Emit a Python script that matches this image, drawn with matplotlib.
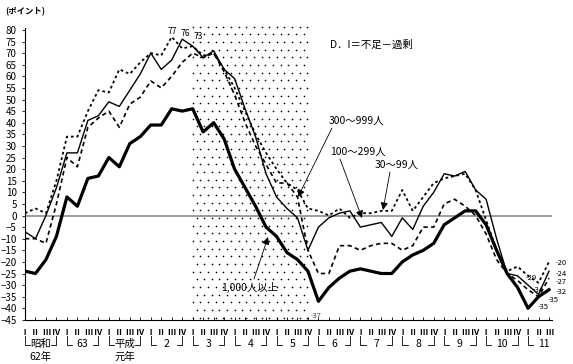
import matplotlib
matplotlib.use('Agg')
import matplotlib.pyplot as plt
import matplotlib.transforms as mtransforms
import numpy as np

plt.rcParams['font.family'] = ['Noto Sans CJK JP', 'DejaVu Sans']

# ---- data -------------------------------------------------------------
quarters = list(range(51))  # 昭和62年Ⅰ期 .. 平成11年Ⅲ期
q_labels = ['Ⅰ', 'Ⅱ', 'Ⅲ', 'Ⅳ']
year_top = ['昭和', '63', '平成', '2', '3', '4', '5', '6', '7', '8', '9', '10', '11']
year_bottom = ['62年', '', '元年', '', '', '', '', '', '', '', '', '', '']

s1000 = [-24, -25, -19, -9, 8, 4, 16, 17, 25, 21, 31, 34, 39, 39, 46, 45, 46, 36, 40, 33,
         20, 12, 4, -5, -9, -16, -19, -24, -37, -31, -27, -24, -23, -24, -25, -25, -20, -17,
         -15, -12, -4, -1, 2, 2, -4, -15, -25, -31, -40, -35, -32]
s300 = [-10, -10, -12, 5, 25, 21, 38, 42, 45, 38, 48, 51, 58, 55, 60, 66, 70, 68, 70, 62,
        52, 40, 30, 22, 14, 14, 8, -15, -25, -25, -13, -13, -15, -13, -12, -12, -15, -13,
        -5, -5, 5, 7, 4, 0, -8, -19, -25, -28, -32, -35, -27]
s100 = [-7, -10, 0, 12, 27, 27, 41, 43, 49, 47, 54, 61, 70, 63, 67, 76, 73, 68, 71, 63,
        59, 46, 34, 18, 8, 3, -1, -15, -5, -1, 1, 2, -5, -4, -3, -9, -1, -6, 4, 10, 18,
        17, 19, 11, 7, -10, -25, -26, -30, -34, -24]
s30 = [1, 3, 1, 15, 34, 34, 45, 54, 53, 63, 61, 66, 70, 69, 77, 72, 73, 69, 70, 63, 55,
       45, 35, 27, 20, 14, 11, 3, 2, 0, 3, -1, 1, 1, 2, 2, 11, 2, 8, 14, 16, 17, 18, 11,
       -2, -15, -24, -22, -26, -29, -20]

recession_start, recession_end = 16, 27
peak_labels = ['77', '76', '73']
end_labels = ['-20', '-24', '-27', '-32', '-35']
prev_labels = ['-29', '-34', '-35']

# ---- figure -------------------------------------------------------------
W, H = 573, 364
fig = plt.figure(figsize=(W / 100, H / 100), dpi=100)
PX_Q = 10.48      # pixels per quarter
PX_U = 2.32       # pixels per point
X0, Y0 = 25, 215.5
ymin, ymax = -45, 81
xmax = 50.3
ax = fig.add_axes([X0 / W, (H - (Y0 - ymin * PX_U)) / H, xmax * PX_Q / W, (ymax - ymin) * PX_U / H])
ax.set_xlim(0, xmax)
ax.set_ylim(ymin, ymax)


def px(xp, yp):
    return (xp - X0) / PX_Q, (Y0 - yp) / PX_U


# recession shading (dot pattern)
gx = np.arange(recession_start, recession_end + 0.01, 0.73)
gy = np.arange(ymin + 1, ymax + 1, 3.3)
for k, yy in enumerate(gy):
    xs = gx + (0.365 if k % 2 else 0)
    xs = xs[xs <= recession_end]
    ax.scatter(xs, np.full_like(xs, yy), s=1.4, color='black', linewidths=0, zorder=1,
               clip_on=False)

ax.axhline(0, color='#8c8c8c', lw=1.2, zorder=2)

ax.plot(quarters, s30, color='black', lw=1.3, ls=(0, (1.5, 1.6)), zorder=3)
ax.plot(quarters, s300, color='black', lw=1.2, ls=(0, (2.6, 2)), zorder=3)
ax.plot(quarters, s100, color='black', lw=1.0, zorder=4)
ax.plot(quarters, s1000, color='black', lw=2.3, zorder=5)

# spines / ticks
for sp in ['top', 'right']:
    ax.spines[sp].set_visible(False)
ax.spines['left'].set_linestyle((0, (1, 1)))
ax.spines['left'].set_linewidth(0.8)
ax.spines['bottom'].set_linewidth(0.8)
ax.set_yticks(np.arange(-45, 81, 5))
ax.tick_params(axis='y', length=2, width=0.6, pad=4, labelsize=7)
ax.set_xticks(quarters)
ax.set_xticklabels([q_labels[i % 4] for i in quarters], fontsize=6, fontweight='bold')
ax.tick_params(axis='x', length=2, width=0.6, direction='in', pad=6)

# year brackets
tr = mtransforms.blended_transform_factory(ax.transData, fig.transFigure)
yb_top = (H - 336) / H
yb_bot = (H - 345) / H
for k, (t1, t2) in enumerate(zip(year_top, year_bottom)):
    xl = 4 * k
    xr = 4 * k + 3
    xm = (xl + xr) / 2
    ax.plot([xl, xl, xl + 0.5], [yb_top, yb_bot, yb_bot], color='black', lw=0.6,
            transform=tr, clip_on=False)
    if k < len(year_top) - 1:
        ax.plot([xr - 0.5, xr, xr], [yb_bot, yb_bot, yb_top], color='black', lw=0.6,
                transform=tr, clip_on=False)
    ax.text(xm, (H - 344) / H, t1, transform=tr, ha='center', va='center', fontsize=7.5)
    if t2:
        ax.text(xm, (H - 357) / H, t2, transform=tr, ha='center', va='center', fontsize=7.5)

# texts
fig.text(5 / W, 1 - 12 / H, '(ポイント)', fontsize=6, fontweight='bold', va='center')
x, y = px(330, 45)
ax.text(x, y, 'D．I＝不足－過剰', fontsize=7.5, va='center')

arrow = dict(arrowstyle='-|>', lw=0.6, color='black', mutation_scale=11, shrinkA=0, shrinkB=0)
fs_ann = 7.5
ann = [
    ('300～999人', (329, 121), (332, 128), (298, 197)),
    ('100～299人', (330, 152), (340, 159), (362, 218)),
    ('30～99人', (375, 165), (390, 172), (383, 210)),
    ('1,000人以上', (221, 287), (254, 279), (268, 237)),
]
for label, tpos, start, tip in ann:
    x, y = px(*tpos)
    ax.text(x, y, label, fontsize=fs_ann, ha='left', va='center', zorder=6)
    ax.annotate('', xy=px(*tip), xytext=px(*start), arrowprops=arrow, zorder=6)

for t, (xp, yp) in zip(peak_labels, [(172, 31), (185, 33), (198, 36)]):
    x, y = px(xp, yp)
    ax.text(x, y, t, fontsize=6, ha='center', va='center')
x, y = px(316, 316)
ax.text(x, y, '-37', fontsize=5.5, ha='center', va='center', color='#444444')
for t, (xp, yp) in zip(end_labels, [(556, 263), (556, 274), (556, 282), (556, 292), (548, 300)]):
    x, y = px(xp, yp)
    ax.text(x, y, t, fontsize=5.5, ha='left', va='center')
for t, (xp, yp) in zip(prev_labels, [(531, 278), (538, 290), (543, 307)]):
    x, y = px(xp, yp)
    ax.text(x, y, t, fontsize=5.5, ha='center', va='center')

fig.savefig('out.png', dpi=100)
